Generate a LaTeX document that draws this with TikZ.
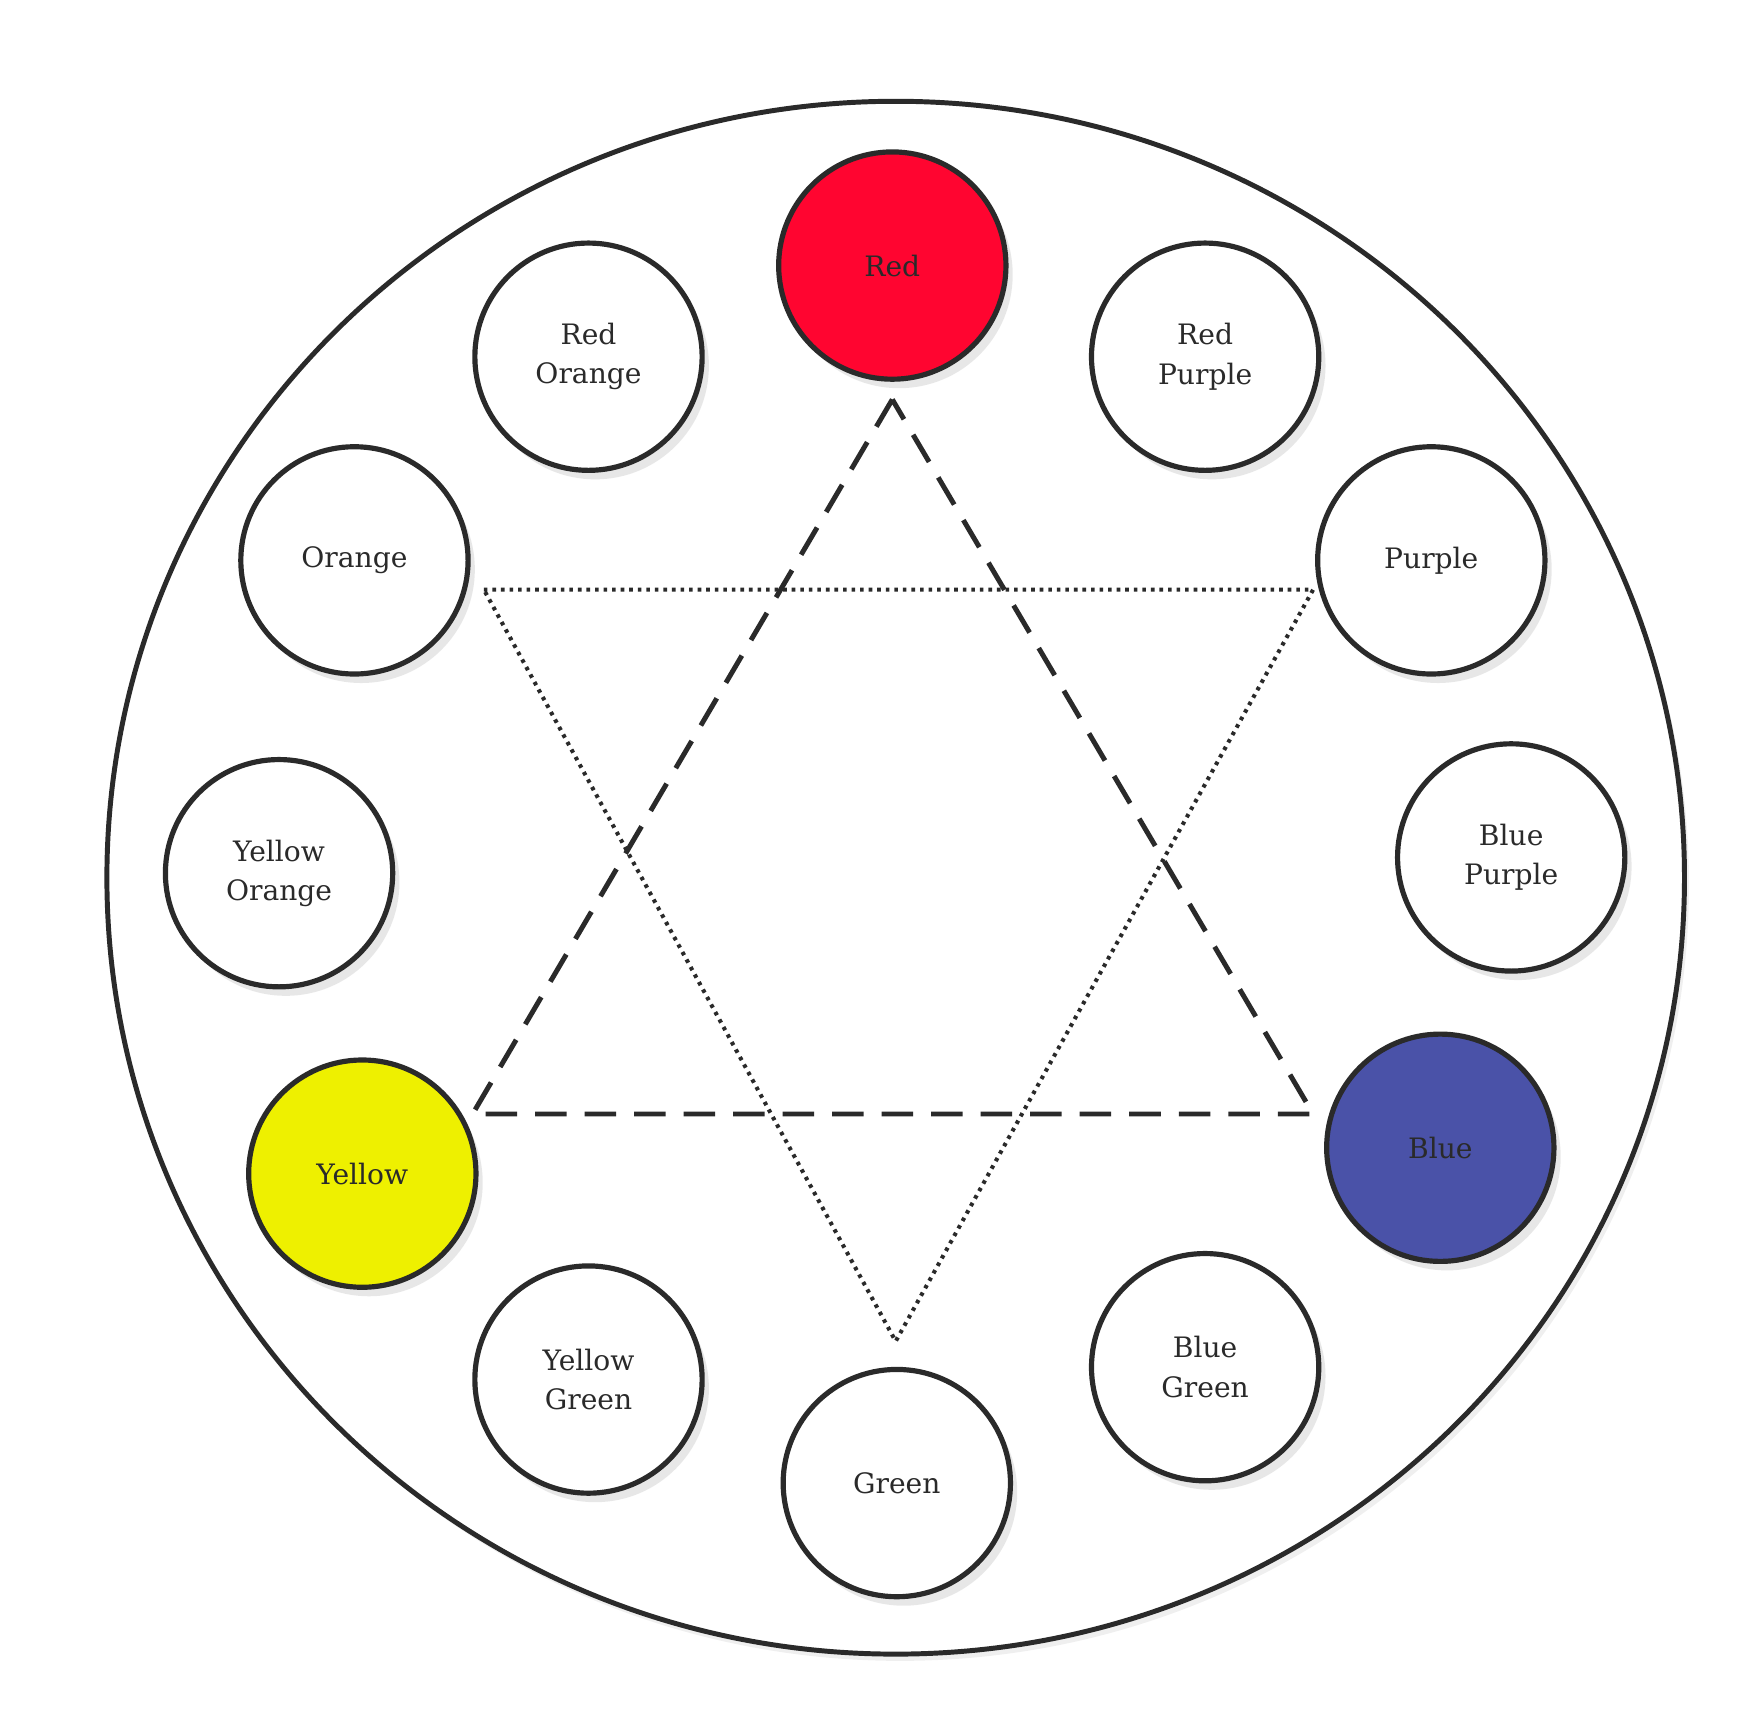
\documentclass[tikz,border=0pt]{standalone}
\usepackage{fontspec}
\setmainfont{DejaVu Serif}
\usetikzlibrary{shadows}
\definecolor{redc}{HTML}{FF0530}
\definecolor{yelc}{HTML}{EEF000}
\definecolor{bluc}{HTML}{4A52A8}
\definecolor{ink}{HTML}{2A2A2A}
\begin{document}
\begin{tikzpicture}[x=0.5pt,y=-0.5pt,
  col/.style={circle,draw=ink,line width=2.3pt,minimum size=101pt,inner sep=0pt,align=center,fill=white,
    font=\fontsize{12.5}{17.5}\selectfont,text=ink,
    drop shadow={shadow xshift=3pt,shadow yshift=-4pt,fill=black!18}},
  dashline/.style={draw=ink,line width=2.2pt,dash pattern=on 14pt off 8pt},
  dotline/.style={draw=ink,line width=1.8pt,dash pattern=on 1.6pt off 2.2pt}]
\useasboundingbox (0,0) rectangle (1565,1527);
\draw[ink,line width=2.2pt,fill=white,drop shadow={shadow xshift=2pt,shadow yshift=-3pt,fill=black!12}] (796,780) ellipse [x radius=701, y radius=690];
\coordinate (d1) at (793,355); \coordinate (d2) at (420,990); \coordinate (d3) at (1167,990);
\coordinate (t1) at (430,524); \coordinate (t2) at (1167,524); \coordinate (t3) at (796,1192);
\draw[dashline] (d1) -- (d2) -- (d3) -- cycle;
\draw[dotline] (t1) -- (t2) -- (t3) -- cycle;
\node[col,fill=redc] (red) at (793,236) {Red};
\node[col] (ro) at (523,317) {Red\\Orange};
\node[col] (rp) at (1071,317) {Red\\Purple};
\node[col] (or) at (315,498) {Orange};
\node[col] (pu) at (1272,498) {Purple};
\node[col] (yo) at (248,776) {Yellow\\Orange};
\node[col] (bp) at (1343,762) {Blue\\Purple};
\node[col,fill=yelc] (ye) at (322,1043) {Yellow};
\node[col,fill=bluc] (bl) at (1280,1020) {Blue};
\node[col] (yg) at (523,1226) {Yellow\\Green};
\node[col] (bg) at (1071,1215) {Blue\\Green};
\node[col] (gr) at (797,1318) {Green};
\end{tikzpicture}
\end{document}
